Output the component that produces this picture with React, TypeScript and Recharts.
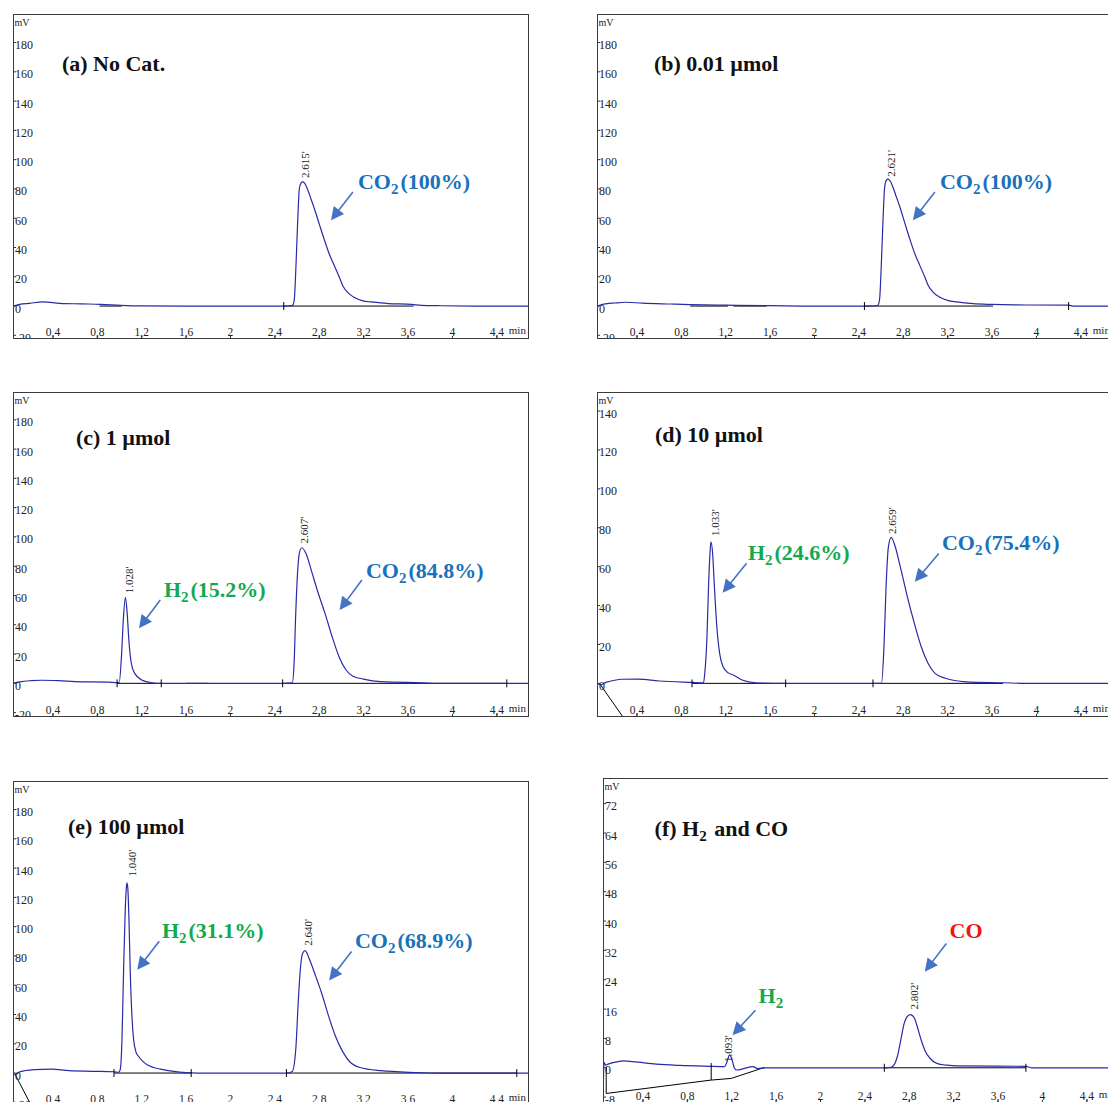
import React from 'react';
import { LineChart, Line, XAxis, YAxis, ReferenceLine, ReferenceDot } from 'recharts';

type Pt = [number, number];

// axis ticks
const xTicks = [0.4, 0.8, 1.2, 1.6, 2, 2.4, 2.8, 3.2, 3.6, 4, 4.4];
const yTicksMain = [-20, 0, 20, 40, 60, 80, 100, 120, 140, 160, 180];
const yTicksD = [0, 20, 40, 60, 80, 100, 120, 140];
const yTicksF = [-8, 0, 8, 16, 24, 32, 40, 48, 56, 64, 72];

// detector signal (min, mV)
const signalA: Pt[] = [
  [0.04, 0], [0.1, 1.2], [0.19, 1.9], [0.31, 2.8], [0.46, 1.9], [0.65, 1.5], [0.83, 1.2], [1.01, 0.5], [1.2, 0.1],
  [1.6, 0], [2.0, 0], [2.48, 0], [2.535, 0.2], [2.56, 0.5], [2.575, 4.6], [2.59, 27.4], [2.605, 57], [2.62, 79.8],
  [2.635, 84], [2.65, 84.8], [2.667, 84], [2.696, 79.5], [2.726, 73], [2.756, 66.5], [2.8, 56], [2.846, 45.2],
  [2.891, 35.4], [2.937, 27.4], [2.982, 19.5], [3.013, 13.7], [3.058, 9.2], [3.118, 5.8], [3.194, 3.5], [3.269, 2.8],
  [3.42, 1.7], [3.63, 1.2], [3.72, 0.5], [3.9, 0.2], [4.2, 0], [4.69, 0],
];
const signalB: Pt[] = [
  [0.04, 0], [0.1, 1.3], [0.2, 2.1], [0.3, 2.6], [0.45, 2], [0.7, 1.4], [0.88, 1], [1.2, 0.6], [1.6, 0.3], [2.0, 0],
  [2.5, 0], [2.548, 0.2], [2.572, 0.6], [2.587, 5], [2.602, 28], [2.617, 58], [2.632, 81], [2.648, 86], [2.662, 86.7],
  [2.678, 85.8], [2.708, 81], [2.738, 74.5], [2.768, 68], [2.812, 57.2], [2.858, 46], [2.903, 36], [2.949, 27.8],
  [2.994, 19.8], [3.025, 14], [3.07, 9.4], [3.13, 6], [3.206, 3.7], [3.28, 2.8], [3.43, 1.6], [3.6, 1.1], [3.8, 0.8],
  [4.29, 0.6], [4.33, 0], [4.69, 0],
];
const signalC: Pt[] = [
  [0.04, 0], [0.1, 1], [0.2, 1.8], [0.3, 2.1], [0.45, 1.8], [0.6, 1.2], [0.9, 0.8], [0.978, 0.5], [0.997, 0.5],
  [1.019, 20.5], [1.034, 43.2], [1.053, 58.7], [1.069, 47.8], [1.084, 29.6], [1.106, 13.7], [1.137, 6.8], [1.2, 2.3],
  [1.293, 0.4], [1.376, 0], [2.0, 0], [2.47, 0], [2.557, 0.3], [2.573, 13.7], [2.588, 47.8], [2.604, 75.1],
  [2.62, 88.8], [2.642, 92.6], [2.682, 88.4], [2.729, 77], [2.791, 61.5], [2.854, 47.3], [2.916, 31.8],
  [2.978, 18.2], [3.041, 9.1], [3.103, 4.9], [3.197, 2.9], [3.353, 1.1], [3.727, 0.4], [3.9, 0], [4.69, 0],
];
const signalD: Pt[] = [
  [0.04, 0], [0.073, -0.8], [0.12, 0.5], [0.2, 1.6], [0.26, 2.1], [0.41, 2.2], [0.6, 1.2], [0.896, 0.5], [1.0, 0.3],
  [1.011, 5.1], [1.03, 22.3], [1.045, 49.7], [1.058, 66.8], [1.067, 72.8], [1.082, 66.8], [1.098, 49.7],
  [1.12, 29.1], [1.145, 15.4], [1.176, 8.5], [1.223, 5.4], [1.269, 4.3], [1.347, 1.7], [1.471, 0.3], [1.72, 0],
  [2.52, 0], [2.604, 0], [2.626, 18.8], [2.645, 49.7], [2.666, 70.2], [2.691, 75.1], [2.729, 70], [2.775, 59.5],
  [2.837, 44.5], [2.9, 30.8], [2.962, 18.8], [3.023, 10.3], [3.086, 5.1], [3.178, 2.6], [3.365, 0.8], [3.707, 0.3],
  [3.9, 0], [4.69, 0],
];
const signalE: Pt[] = [
  [0.04, 0], [0.061, -1], [0.1, 0.8], [0.233, 2.3], [0.388, 2.7], [0.545, 1.6], [0.75, 1.2], [0.95, 0.9], [0.99, 0.5],
  [1.006, 2.3], [1.022, 22.8], [1.036, 68.4], [1.05, 108], [1.062, 127], [1.067, 130], [1.075, 126], [1.085, 105],
  [1.097, 68.4], [1.112, 38.7], [1.127, 22.8], [1.15, 14], [1.172, 11.3], [1.21, 8], [1.248, 5.7], [1.3, 4],
  [1.368, 2.7], [1.489, 1.1], [1.6, 0.3], [1.7, 0], [2.504, 0], [2.557, 1.1], [2.588, 15.9], [2.61, 47.8],
  [2.629, 70.6], [2.651, 82], [2.672, 83.6], [2.713, 77.4], [2.76, 67.8], [2.823, 54.2], [2.885, 38.7], [2.947, 25],
  [3.01, 14.8], [3.072, 7.9], [3.166, 3.8], [3.353, 1.6], [3.665, 0.4], [3.9, 0], [4.69, 0],
];
const signalF: Pt[] = [
  [0.038, 1.7], [0.043, -5], [0.048, 1.5], [0.064, 0.7], [0.085, 1], [0.13, 1.4], [0.22, 1.9], [0.31, 1.7],
  [0.52, 1], [0.73, 0.65], [1.0, 0.4], [1.136, 0.3], [1.157, 1.6], [1.181, 3.5], [1.202, 2.3], [1.226, -0.2],
  [1.247, -0.6], [1.3, -0.3], [1.391, 0.3], [1.436, -0.2], [1.512, 0], [2.5, 0], [2.6, 0], [2.646, 0.3],
  [2.692, 3], [2.723, 7.5], [2.754, 12.1], [2.785, 14.1], [2.81, 14.5], [2.847, 13.5], [2.877, 10.7], [2.908, 7.5],
  [2.94, 4.8], [2.986, 2.6], [3.048, 1.2], [3.14, 0.7], [3.233, 0.5], [3.85, 0.4], [3.9, 0], [4.69, 0],
];

// integration baselines drawn in black
const baselinesA: Pt[][] = [[[0.82, 0], [1.02, 0]], [[2.48, 0], [3.65, 0]]];
const baselinesB: Pt[][] = [[[0.88, 0], [1.22, 0]], [[1.27, 0], [1.57, 0]], [[2.45, 0], [3.61, 0]]];
const baselinesC: Pt[][] = [[[0.978, 0], [1.376, 0]], [[1.6, 0], [1.8, 0]], [[2.47, 0], [4.49, 0]]];
const baselinesD: Pt[][] = [[[0.073, -0.9], [0.45, -31.6]], [[0.896, 0], [1.74, 0]], [[2.527, 0], [3.7, 0]]];
const baselinesE: Pt[][] = [[[0.062, -1.4], [0.25, -28.7]], [[0.95, 0], [1.646, 0]], [[2.504, 0], [4.58, 0]]];
const baselinesF: Pt[][] = [[[0.069, -7], [1.015, -3.35], [1.195, -2.9], [1.496, 0.1]], [[2.575, 0], [3.851, 0]]];

// integration marks: [time, half height]
const marksA: Pt[] = [[2.48, 2.7]];
const marksB: Pt[] = [[2.45, 2.7], [4.29, 2.7]];
const marksC: Pt[] = [[0.978, 2.7], [1.376, 2.7], [2.47, 2.7], [4.49, 2.7]];
const marksD: Pt[] = [[0.896, 2], [1.74, 2], [2.527, 2]];
const marksE: Pt[] = [[0.95, 2.7], [1.646, 2.7], [2.504, 2.7], [4.58, 2.7]];
const marksF: Pt[] = [[2.575, 1.1], [3.851, 1.1]];
const tallMarksF: [number, number, number][] = [[0.069, -7, 0.3], [1.015, -3.35, 1.3]];

// retention times printed over the peaks
const rtA = [{ t: 2.67, v: 87.4, text: "2.615'" }];
const rtB = [{ t: 2.687, v: 88.3, text: "2.621'" }];
const rtC = [{ t: 1.087, v: 61.5, text: "1.028'" }, { t: 2.662, v: 95.6, text: "2.607'" }];
const rtD = [{ t: 1.101, v: 75.7, text: "1.033'" }, { t: 2.703, v: 76.8, text: "2.659'" }];
const rtE = [{ t: 1.109, v: 134.3, text: "1.040'" }, { t: 2.703, v: 87, text: "2.640'" }];
const rtF = [{ t: 1.166, v: 1.6, text: "1.093'" }, { t: 2.847, v: 15.9, text: "2.802'" }];

const BLACK = '#111';
const CO2_BLUE = '#1a72bb';
const H2_GREEN = '#14a84f';
const CO_RED = '#f01414';

type Note = { t: number; v: number; base: string; sub?: string; rest?: string; color: string };

const notesA: Note[] = [
  { t: 0.481, v: 160.5, base: '(a) No Cat.', color: BLACK },
  { t: 3.148, v: 79.9, base: 'CO', sub: '2', rest: '(100%)', color: CO2_BLUE },
];
const notesB: Note[] = [
  { t: 0.553, v: 160.5, base: '(b) 0.01 µmol', color: BLACK },
  { t: 3.13, v: 79.9, base: 'CO', sub: '2', rest: '(100%)', color: CO2_BLUE },
];
const notesC: Note[] = [
  { t: 0.607, v: 162.8, base: '(c) 1 µmol', color: BLACK },
  { t: 1.4, v: 58.9, base: 'H', sub: '2', rest: '(15.2%)', color: H2_GREEN },
  { t: 3.22, v: 71.9, base: 'CO', sub: '2', rest: '(84.8%)', color: CO2_BLUE },
];
const notesD: Note[] = [
  { t: 0.562, v: 124.1, base: '(d) 10 µmol', color: BLACK },
  { t: 1.4, v: 63.4, base: 'H', sub: '2', rest: '(24.6%)', color: H2_GREEN },
  { t: 3.148, v: 68.5, base: 'CO', sub: '2', rest: '(75.4%)', color: CO2_BLUE },
];
const notesE: Note[] = [
  { t: 0.535, v: 163.5, base: '(e) 100 µmol', color: BLACK },
  { t: 1.382, v: 92.4, base: 'H', sub: '2', rest: '(31.1%)', color: H2_GREEN },
  { t: 3.121, v: 85.6, base: 'CO', sub: '2', rest: '(68.9%)', color: CO2_BLUE },
];
const notesF: Note[] = [
  { t: 0.505, v: 63.2, base: '(f) H', sub: '2', rest: ' and CO', color: BLACK },
  { t: 1.442, v: 17.6, base: 'H', sub: '2', color: H2_GREEN },
  { t: 3.163, v: 35.4, base: 'CO', color: CO_RED },
];

// arrows: [t start, v start, t tip, v tip]
const arrowsA = [[3.103, 77.9, 2.905, 58.7]];
const arrowsB = [[3.085, 77.9, 2.887, 58.7]];
const arrowsC = [[1.367, 56.9, 1.175, 37.6], [3.184, 70.6, 2.983, 50.1]];
const arrowsD = [[1.388, 61.7, 1.172, 46.6], [3.12, 66.8, 2.904, 52.2]];
const arrowsE = [[1.358, 90, 1.159, 70.6], [3.091, 83.1, 2.889, 63.3]];
const arrowsF = [[1.414, 15.7, 1.207, 8.9], [3.134, 33.9, 2.94, 26.2]];

const W = 516;
const H = 325;
const X_DOMAIN: [number, number] = [0.04, 4.69];
const SERIF = '"Liberation Serif", "Times New Roman", serif';
const TRACE = '#2a2aa6';
const ARROW = '#4472c4';

const toRows = (pts: Pt[]) => pts.map(([t, v]) => ({ t, v }));

const fmt = (n: number) => String(n).replace('.', ',');

const YTick = (props: any) => {
  const { x, y, payload } = props;
  return (
    <g>
      <line x1={x} x2={x + 3} y1={y} y2={y} stroke="#333" strokeWidth={1} />
      <text x={x + 2} y={y + 6.5} fontSize={12} fontFamily={SERIF} fill="#222">{payload.value}</text>
    </g>
  );
};

const makeXTick = (h: number) => (props: any) => {
  const { x, payload } = props;
  return (
    <g>
      <line x1={x} x2={x} y1={h} y2={h - 3} stroke="#333" strokeWidth={1} />
      <text x={x} y={h - 3} fontSize={11.5} fontFamily={SERIF} fill="#222" textAnchor="middle">{fmt(payload.value)}</text>
      {payload.value === 4.4 && (
        <text x={x + 12} y={h - 5} fontSize={11} fontFamily={SERIF} fill="#222">min</text>
      )}
    </g>
  );
};

const Arrow = (p: any) => {
  const { x1, y1, x2, y2 } = p;
  const len = Math.hypot(x2 - x1, y2 - y1) || 1;
  const ux = (x2 - x1) / len;
  const uy = (y2 - y1) / len;
  const hl = 13;
  const hw = 6.5;
  const bx = x2 - ux * hl;
  const by = y2 - uy * hl;
  return (
    <g>
      <line x1={x1} y1={y1} x2={bx + ux} y2={by + uy} stroke={ARROW} strokeWidth={1.6} />
      <polygon points={`${x2},${y2} ${bx - uy * hw},${by + ux * hw} ${bx + uy * hw},${by - ux * hw}`} fill={ARROW} />
    </g>
  );
};

const NoteText = (note: Note) => (p: any) => (
  <text x={p.cx} y={p.cy} fontFamily={SERIF} fontWeight="bold" fontSize={22} fill={note.color}>
    {note.base}
    {note.sub && <tspan dy={5} fontSize={15}>{note.sub}</tspan>}
    {note.rest && <tspan dy={note.sub ? -5 : 0} dx={note.sub ? 2 : 0}>{note.rest}</tspan>}
  </text>
);

const RtText = (text: string) => (p: any) => (
  <text
    x={p.cx}
    y={p.cy}
    transform={`rotate(-90 ${p.cx} ${p.cy})`}
    fontFamily={SERIF}
    fontSize={11}
    fill="#222"
    dominantBaseline="central"
  >
    {text}
  </text>
);

const UnitText = (p: any) => (
  <text x={p.cx + 1.5} y={p.cy + 12} fontFamily={SERIF} fontSize={10} fill="#222">mV</text>
);

interface PanelCfg {
  left: number;
  top: number;
  yDomain: [number, number];
  yTicks: number[];
  signal: Pt[];
  baselines: Pt[][];
  marks: Pt[];
  tallMarks?: [number, number, number][];
  rts: { t: number; v: number; text: string }[];
  notes: Note[];
  arrows: number[][];
}

const panels: PanelCfg[] = [
  { left: 13, top: 14, yDomain: [-22.5, 199.5], yTicks: yTicksMain, signal: signalA, baselines: baselinesA, marks: marksA, rts: rtA, notes: notesA, arrows: arrowsA },
  { left: 597, top: 14, yDomain: [-22.5, 199.5], yTicks: yTicksMain, signal: signalB, baselines: baselinesB, marks: marksB, rts: rtB, notes: notesB, arrows: arrowsB },
  { left: 13, top: 392, yDomain: [-23, 199], yTicks: yTicksMain, signal: signalC, baselines: baselinesC, marks: marksC, rts: rtC, notes: notesC, arrows: arrowsC },
  { left: 597, top: 392, yDomain: [-17.3, 149.8], yTicks: yTicksD, signal: signalD, baselines: baselinesD, marks: marksD, rts: rtD, notes: notesD, arrows: arrowsD },
  { left: 13, top: 781, yDomain: [-22.5, 199.5], yTicks: yTicksMain, signal: signalE, baselines: baselinesE, marks: marksE, rts: rtE, notes: notesE, arrows: arrowsE },
  { left: 603, top: 778, yDomain: [-9.6, 79], yTicks: yTicksF, signal: signalF, baselines: baselinesF, marks: marksF, tallMarks: tallMarksF, rts: rtF, notes: notesF, arrows: arrowsF },
];

const Panel: React.FC<{ cfg: PanelCfg }> = ({ cfg }) => {
  const yTop = cfg.yDomain[1];
  return (
    <div style={{ position: 'absolute', left: cfg.left, top: cfg.top, width: W, height: H, overflow: 'hidden' }}>
      <LineChart width={W} height={H} margin={{ top: 0, right: 0, bottom: 0, left: 0 }}>
        <XAxis
          type="number"
          dataKey="t"
          domain={X_DOMAIN}
          allowDataOverflow
          ticks={xTicks}
          interval={0}
          mirror
          axisLine={false}
          tickLine={false}
          tickSize={0}
          tick={makeXTick(H)}
        />
        <YAxis
          type="number"
          dataKey="v"
          domain={cfg.yDomain}
          allowDataOverflow
          ticks={cfg.yTicks}
          interval={0}
          mirror
          axisLine={false}
          tickLine={false}
          tickSize={0}
          tickMargin={0}
          tick={YTick}
        />
        {cfg.baselines.map((seg, i) => (
          <Line
            key={`b${i}`}
            data={toRows(seg)}
            dataKey="v"
            type="linear"
            stroke="#000"
            strokeWidth={1}
            dot={false}
            activeDot={false}
            isAnimationActive={false}
          />
        ))}
        <Line
          data={toRows(cfg.signal)}
          dataKey="v"
          type="monotone"
          stroke={TRACE}
          strokeWidth={1.2}
          dot={false}
          activeDot={false}
          isAnimationActive={false}
        />
        {cfg.marks.map(([t, half], i) => (
          <ReferenceLine
            key={`m${i}`}
            segment={[{ x: t, y: -half }, { x: t, y: half }]}
            stroke="#000"
            strokeWidth={1}
            ifOverflow="visible"
          />
        ))}
        {(cfg.tallMarks || []).map(([t, lo, hi], i) => (
          <ReferenceLine
            key={`tm${i}`}
            segment={[{ x: t, y: lo }, { x: t, y: hi }]}
            stroke="#000"
            strokeWidth={1}
            ifOverflow="visible"
          />
        ))}
        {cfg.arrows.map(([ta, va, tb, vb], i) => (
          <ReferenceLine
            key={`a${i}`}
            segment={[{ x: ta, y: va }, { x: tb, y: vb }]}
            shape={Arrow}
            ifOverflow="visible"
          />
        ))}
        {cfg.rts.map((r, i) => (
          <ReferenceDot key={`r${i}`} x={r.t} y={r.v} r={1} shape={RtText(r.text)} ifOverflow="visible" />
        ))}
        {cfg.notes.map((n, i) => (
          <ReferenceDot key={`n${i}`} x={n.t} y={n.v} r={1} shape={NoteText(n)} ifOverflow="visible" />
        ))}
        <ReferenceDot x={X_DOMAIN[0]} y={yTop} r={1} shape={UnitText} ifOverflow="visible" />
      </LineChart>
      <div
        style={{
          position: 'absolute',
          left: 0,
          top: 0,
          width: W,
          height: H,
          border: '1px solid #3c3c3c',
          boxSizing: 'border-box',
          pointerEvents: 'none',
        }}
      />
    </div>
  );
};

export default function App() {
  return (
    <div
      style={{
        position: 'absolute',
        left: 0,
        top: 0,
        width: 1108,
        height: 1102,
        overflow: 'hidden',
        background: '#fff',
      }}
    >
      {panels.map((p, i) => (
        <Panel key={i} cfg={p} />
      ))}
    </div>
  );
}
